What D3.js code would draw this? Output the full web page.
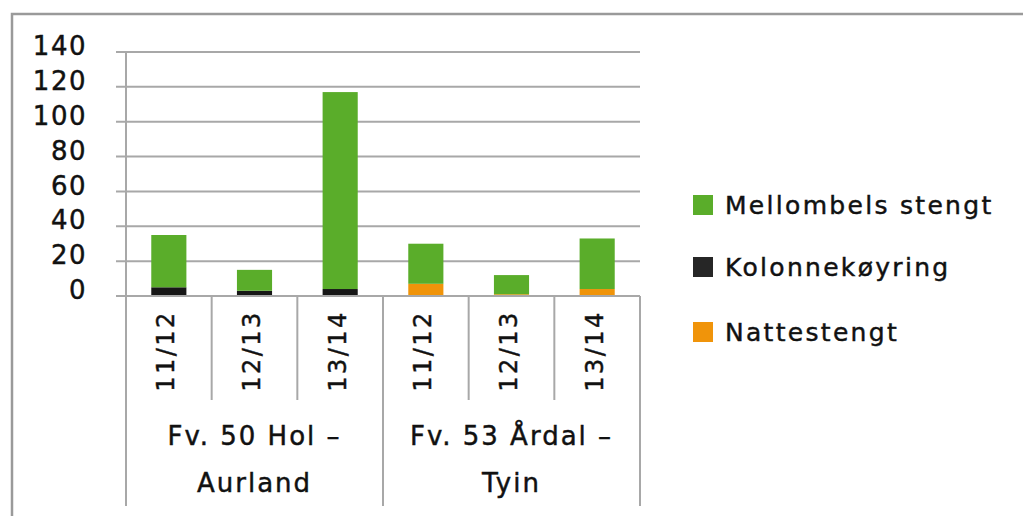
<!DOCTYPE html>
<html><head><meta charset="utf-8">
<script src="https://cdn.jsdelivr.net/npm/d3@7"></script>
<style>
html,body{margin:0;padding:0;background:#fff;}
text{font-family:"DejaVu Sans",sans-serif;fill:#111;stroke:#111;stroke-width:0.45px;}
</style></head>
<body><svg id="c" width="1023" height="516"></svg>
<script>
const categories = ["11/12","12/13","13/14","11/12","12/13","13/14"];
const groups = [["Fv. 50 Hol –","Aurland"],["Fv. 53 Årdal –","Tyin"]];
const seriesNames = ["Nattestengt","Kolonnekøyring","Mellombels stengt"];
const nattestengt = [0,0,0,7,1,4];
const kolonnekoyring = [5,3,4,0,0,0];
const mellombels = [30,12,113,23,11,29];
const yTicks = [0,20,40,60,80,100,120,140];
const colors = ["#f0940a","#161616","#5aad2a"];
const legendColors = ["#f0940a","#262626","#5aad2a"];

const svg = d3.select("#c");
// outer border
svg.append("path").attr("d","M12,530 L12,14 L1040,14").attr("fill","none").attr("stroke","#9a9a9a").attr("stroke-width",2.5);

const x0 = 126, x1 = 640;
const y = d3.scaleLinear().domain([0,140]).range([296,52]);
const x = d3.scaleBand().domain(d3.range(categories.length)).range([x0,x1]).padding(0);
const barW = x.bandwidth()*0.41;

// gridlines
svg.append("g").selectAll("line").data(yTicks).join("line")
  .attr("x1",116).attr("x2",x1).attr("y1",d=>y(d)).attr("y2",d=>y(d))
  .attr("stroke","#a8a8a8").attr("stroke-width",2);
// y axis line
svg.append("line").attr("x1",x0).attr("x2",x0).attr("y1",y(140)).attr("y2",y(0)).attr("stroke","#a8a8a8").attr("stroke-width",2);

// y labels
const yAxis = d3.axisLeft(y).tickValues(yTicks).tickSize(0).tickPadding(39);
const ya = svg.append("g").attr("transform",`translate(${x0},0)`).call(yAxis);
ya.select(".domain").remove();
ya.selectAll("text").attr("font-size",26).attr("letter-spacing","1.5px").attr("dy","0.1em")
  .style("font-family","DejaVu Sans").attr("fill","#111").attr("stroke","#111").attr("stroke-width",0.45);

// stacked bars
const data = categories.map((c,i)=>({i, Nattestengt:nattestengt[i], "Kolonnekøyring":kolonnekoyring[i], "Mellombels stengt":mellombels[i]}));
const stack = d3.stack().keys(seriesNames)(data);
svg.append("g").selectAll("g").data(stack).join("g").attr("fill",(d,k)=>colors[k])
  .selectAll("rect").data(d=>d).join("rect")
  .attr("x",d=>x(d.data.i)+(x.bandwidth()-barW)/2).attr("width",barW)
  .attr("y",d=>y(d[1])).attr("height",d=>y(d[0])-y(d[1]));

// x axis base
svg.append("line").attr("x1",116).attr("x2",x1).attr("y1",y(0)).attr("y2",y(0)).attr("stroke","#a8a8a8").attr("stroke-width",2);
// separators
const seps = d3.range(categories.length+1);
svg.append("g").selectAll("line").data(seps).join("line")
  .attr("x1",d=> d<categories.length ? x(d) : x1).attr("x2",d=> d<categories.length ? x(d) : x1)
  .attr("y1",y(0)).attr("y2",d=> d%3===0 ? 506 : 400)
  .attr("stroke","#a8a8a8").attr("stroke-width",2);

// category labels (rotated)
svg.append("g").selectAll("text").data(categories).join("text")
  .attr("transform",(d,i)=>`translate(${x(i)+x.bandwidth()/2-3},351) rotate(-90)`)
  .attr("text-anchor","middle").attr("dy","0.36em").attr("font-size",24).attr("letter-spacing","2.5px")
  .text(d=>d);

// group labels
const gW = x.bandwidth()*3;
groups.forEach((g,k)=>{
  const cx = x0 + gW*k + gW/2;
  g.forEach((line,j)=>{
    svg.append("text").attr("x",cx).attr("y",445+j*47).attr("text-anchor","middle")
      .attr("font-size",26).attr("letter-spacing","2px").text(line);
  });
});

// legend
const legendOrder = [2,1,0];
const legY = [205,267,332];
legendOrder.forEach((k,j)=>{
  svg.append("rect").attr("x",693).attr("y",legY[j]-10).attr("width",20).attr("height",20).attr("fill",legendColors[k]);
  svg.append("text").attr("x",725).attr("y",legY[j]+9).attr("font-size",25).attr("letter-spacing","2.3px").text(seriesNames[k]);
});
</script></body></html>
